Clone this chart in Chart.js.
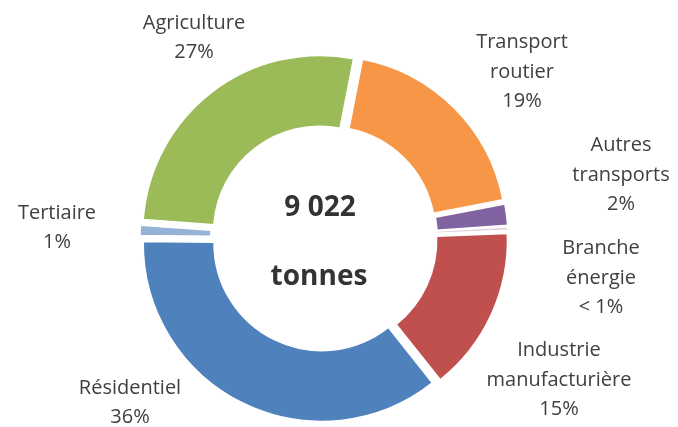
<!DOCTYPE html>
<html lang="fr">
<head>
<meta charset="utf-8">
<title>Émissions par secteur</title>
<script src="https://cdn.jsdelivr.net/npm/chart.js@4/dist/chart.umd.min.js"></script>
<style>
  html, body { margin: 0; padding: 0; background: #ffffff; }
  #wrap { position: relative; width: 678px; height: 427px; }
</style>
</head>
<body>
<div id="wrap"><canvas id="chart" width="678" height="427"></canvas></div>
<script>
// Sectors, clockwise from the top
const categories = ['Transport routier', 'Autres transports', 'Branche énergie',
  'Industrie manufacturière', 'Résidentiel', 'Tertiaire', 'Agriculture'];
// Share of total emissions (%)
const shares = [19, 2, 0.4, 15, 36, 1, 27];
// Printed share labels
const shareLabels = ['19%', '2%', '< 1%', '15%', '36%', '1%', '27%'];
// Sector names split over lines
const nameLines = [['Transport', 'routier'], ['Autres', 'transports'], ['Branche', 'énergie'],
  ['Industrie', 'manufacturière'], ['Résidentiel'], ['Tertiaire'], ['Agriculture']];
// Total shown in the hole
const totalLines = ['9 022', 'tonnes'];

const sliceColors = ['#f79646', '#8064a2', '#e6d3de', '#c0504d', '#4f81bd', '#95b3d7', '#9bbb59'];

// Where each label block sits, relative to the doughnut centre
const labelAnchors = [[198, -166], [297, -63], [277, 40], [235, 142], [-194, 165], [-267, -10], [-130, -200]];
const totalAnchors = [[-4, -30], [-5, 39]];

const EXPLODE = 7; // px each slice is pulled outward

const sum = shares.reduce((a, b) => a + b, 0);

// Chart.js shifts an arc by offset/4 * (2 - sin(angle)); invert that so every slice moves the same distance
function explodeOffset(ctx) {
  const angle = (ctx.raw / sum) * Math.PI * 2;
  const fix = 1 - Math.sin(Math.min(Math.PI, angle));
  return (4 * EXPLODE) / (1 + fix);
}

const labelPlugin = {
  id: 'sectorLabels',
  afterDraw(chart) {
    const arc = chart.getDatasetMeta(0).data[0];
    const cx = arc.x, cy = arc.y;
    const g = chart.ctx;
    g.save();
    g.textAlign = 'center';
    g.textBaseline = 'middle';
    g.fillStyle = '#404040';
    g.font = '20px "Open Sans", sans-serif';
    const lh = 29.5;
    categories.forEach((c, i) => {
      const lines = nameLines[i].concat([shareLabels[i]]);
      const [dx, dy] = labelAnchors[i];
      const top = cy + dy - (lines.length - 1) * lh / 2;
      lines.forEach((t, k) => g.fillText(t, cx + dx, top + k * lh));
    });
    g.fillStyle = '#333333';
    g.font = 'bold 28px "Open Sans", sans-serif';
    totalLines.forEach((t, k) => {
      const [dx, dy] = totalAnchors[k];
      g.fillText(t, cx + dx, cy + dy);
    });
    g.restore();
  }
};

new Chart(document.getElementById('chart'), {
  type: 'doughnut',
  data: {
    labels: categories,
    datasets: [{
      data: shares,
      backgroundColor: sliceColors,
      borderColor: '#ffffff',
      borderWidth: 1.5,
      offset: explodeOffset
    }]
  },
  options: {
    responsive: false,
    animation: false,
    events: [],
    rotation: 11,
    radius: 177,
    cutout: '60%',
    layout: { padding: { left: 0, right: 30, top: 49, bottom: 0 } },
    plugins: { legend: { display: false }, tooltip: { enabled: false } }
  },
  plugins: [labelPlugin]
});
</script>
</body>
</html>
